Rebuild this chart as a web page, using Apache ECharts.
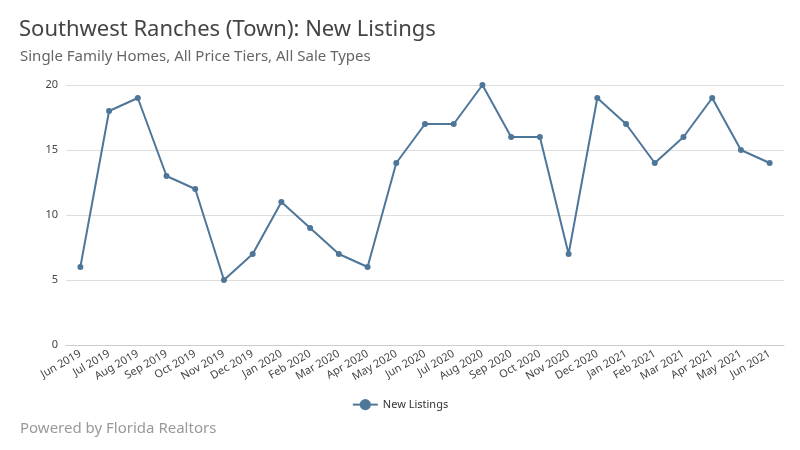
<!DOCTYPE html><html><head><meta charset="utf-8">
<script src="https://cdn.jsdelivr.net/npm/echarts@6/dist/echarts.min.js"></script>
<style>body{margin:0}#c{width:800px;height:450px}</style></head><body><div id="c"></div>
<script>
const categories=["Jun 2019","Jul 2019","Aug 2019","Sep 2019","Oct 2019","Nov 2019","Dec 2019","Jan 2020","Feb 2020","Mar 2020","Apr 2020","May 2020","Jun 2020","Jul 2020","Aug 2020","Sep 2020","Oct 2020","Nov 2020","Dec 2020","Jan 2021","Feb 2021","Mar 2021","Apr 2021","May 2021","Jun 2021"];
const newListings=[6,18,19,13,12,5,7,11,9,7,6,14,17,17,20,16,16,7,19,17,14,16,19,15,14];
const c=echarts.init(document.getElementById('c'));
c.setOption({
 backgroundColor:'#fff',
 textStyle:{fontFamily:'Noto Sans'},
 title:[{text:'Southwest Ranches (Town): New Listings',left:14,top:14,textStyle:{fontSize:22,fontWeight:'normal',color:'#444'}},
  {text:'Single Family Homes, All Price Tiers, All Sale Types',left:15,top:44,textStyle:{fontSize:15,fontWeight:'normal',color:'#666'}},
  {text:'Powered by Florida Realtors',left:15,top:416,textStyle:{fontSize:15,fontWeight:'normal',color:'#999'}}],
 legend:{data:['New Listings'],top:394,left:'center',textStyle:{fontSize:11,color:'#333'},itemWidth:25},
 grid:{left:66,right:16,top:85,bottom:105},
 xAxis:{type:'category',data:categories,boundaryGap:true,axisTick:{show:false},axisLine:{lineStyle:{color:'#ccc'}},axisLabel:{rotate:30,fontSize:11,color:'#444',interval:0}},
 yAxis:{type:'value',min:0,max:20,interval:5,axisLabel:{fontSize:11,color:'#444'},splitLine:{lineStyle:{color:'#ddd'}}},
 series:[{name:'New Listings',type:'line',data:newListings,symbol:'circle',symbolSize:6,lineStyle:{color:'#4e7699',width:2},itemStyle:{color:'#4e7699'}}]
});
</script></body></html>
